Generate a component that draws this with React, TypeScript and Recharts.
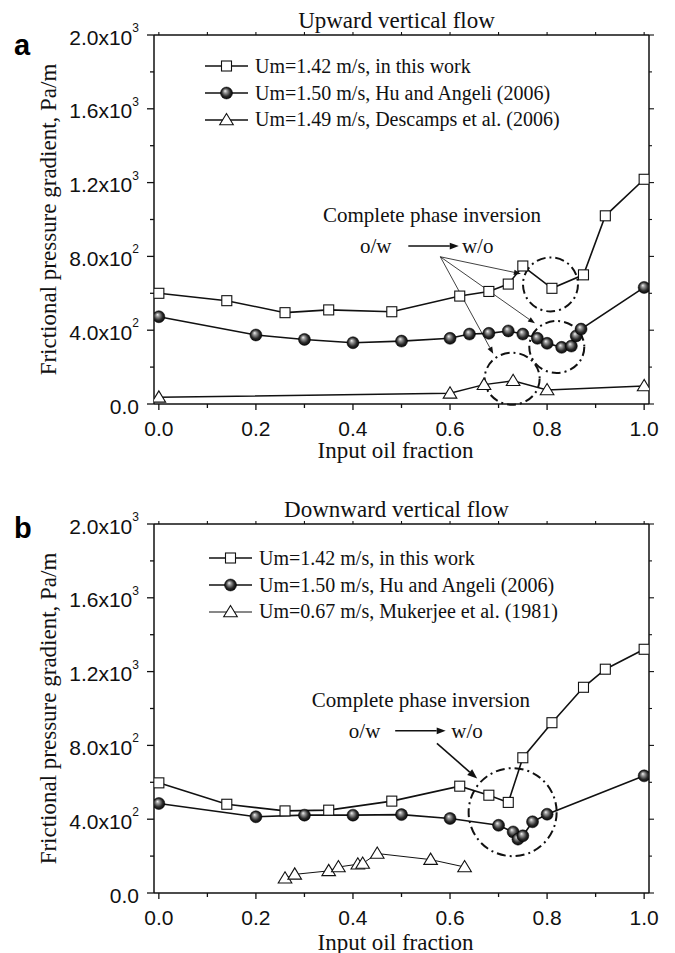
import React from "react";
import {
  ComposedChart,
  Line,
  XAxis,
  YAxis,
  Legend,
  ReferenceDot,
  ReferenceLine,
} from "recharts";

// ---- Upward vertical flow ----
const upSquareX = [0, 0.14, 0.26, 0.35, 0.48, 0.62, 0.68, 0.72, 0.75, 0.81, 0.875, 0.92, 1.0];
const upSquareY = [600, 560, 495, 510, 500, 585, 610, 650, 748, 627, 700, 1020, 1218];
const upCircleX = [0, 0.2, 0.3, 0.4, 0.5, 0.6, 0.64, 0.68, 0.72, 0.75, 0.78, 0.8, 0.83, 0.85, 0.86, 0.87, 1.0];
const upCircleY = [473, 374, 350, 332, 341, 356, 379, 383, 396, 379, 356, 329, 307, 314, 369, 406, 632];
const upTriX = [0, 0.6, 0.67, 0.73, 0.8, 1.0];
const upTriY = [36, 58, 105, 126, 76, 98];

// ---- Downward vertical flow ----
const downSquareX = [0, 0.14, 0.26, 0.35, 0.48, 0.62, 0.68, 0.72, 0.75, 0.81, 0.875, 0.92, 1.0];
const downSquareY = [597, 481, 445, 449, 498, 579, 530, 491, 733, 923, 1115, 1213, 1321];
const downCircleX = [0, 0.2, 0.3, 0.4, 0.5, 0.6, 0.7, 0.73, 0.74, 0.75, 0.77, 0.8, 1.0];
const downCircleY = [485, 413, 422, 422, 425, 404, 367, 331, 292, 310, 386, 427, 635];
const downTriX = [0.26, 0.28, 0.35, 0.37, 0.41, 0.42, 0.45, 0.56, 0.63];
const downTriY = [80, 101, 120, 141, 156, 160, 214, 181, 141];

// ---- Legend texts ----
const upLegend = [
  "Um=1.42 m/s, in this work",
  "Um=1.50 m/s, Hu and Angeli (2006)",
  "Um=1.49 m/s, Descamps et al. (2006)",
];
const downLegend = [
  "Um=1.42 m/s, in this work",
  "Um=1.50 m/s, Hu and Angeli (2006)",
  "Um=0.67 m/s, Mukerjee et al. (1981)",
];

// ---- Axis ticks ----
const xTicks = [0, 0.1, 0.2, 0.3, 0.4, 0.5, 0.6, 0.7, 0.8, 0.9, 1.0];
const xTickLabels = ["0.0", "", "0.2", "", "0.4", "", "0.6", "", "0.8", "", "1.0"];
const yTicks = [0, 200, 400, 600, 800, 1000, 1200, 1400, 1600, 1800, 2000];
const yMajor = [0, 400, 800, 1200, 1600, 2000];
const yMajorBase = ["0.0", "4.0x10", "8.0x10", "1.2x10", "1.6x10", "2.0x10"];
const yMajorExp = ["", "2", "2", "3", "3", "3"];

const X_DOMAIN: [number, number] = [-0.01, 1.01];
const Y_DOMAIN: [number, number] = [0, 2000];

const SANS = '"Liberation Sans", Arial, sans-serif';
const SERIF = '"Liberation Serif", "Times New Roman", serif';
const INK = "#111";

const zip = (xs: number[], ys: number[]) => xs.map((x, i) => ({ x, v: ys[i] }));

// ---- Markers ----
const squareMark = (cx: number, cy: number, key?: any) => (
  <rect key={key} x={cx - 5} y={cy - 5} width={10} height={10} fill="#fff" stroke={INK} strokeWidth={1.1} />
);
const ballMark = (cx: number, cy: number, key?: any) => (
  <circle key={key} cx={cx} cy={cy} r={6} fill="url(#ballGrad)" stroke="#000" strokeWidth={0.5} />
);
const triMark = (cx: number, cy: number, key?: any) => (
  <polygon
    key={key}
    points={`${cx},${cy - 6.5} ${cx - 6.8},${cy + 4.8} ${cx + 6.8},${cy + 4.8}`}
    fill="#fff"
    stroke={INK}
    strokeWidth={1.1}
  />
);

const dotOf = (mark: typeof squareMark) => (p: any) =>
  p.cx == null || p.cy == null ? <g key={p.index} /> : mark(p.cx, p.cy, p.index);

// ---- Axis ticks ----
const YTickLeft = (p: any) => {
  const { x, y, payload } = p;
  const i = yMajor.indexOf(payload.value);
  const major = i >= 0;
  return (
    <g>
      <line x1={x - (major ? 7 : 4)} x2={x} y1={y} y2={y} stroke={INK} strokeWidth={1.3} />
      {major && (
        <text x={x - 15} y={y + 2} textAnchor="end" dominantBaseline="central" fontFamily={SANS} fontSize={21} fill={INK}>
          {yMajorBase[i]}
          {yMajorExp[i] && (
            <tspan dy={-9} fontSize={12}>
              {yMajorExp[i]}
            </tspan>
          )}
        </text>
      )}
    </g>
  );
};

const YTickRight = (p: any) => {
  const { x, y, payload } = p;
  const major = yMajor.indexOf(payload.value) >= 0;
  return <line x1={x} x2={x + (major ? 5 : 3)} y1={y} y2={y} stroke={INK} strokeWidth={1.1} />;
};

const XTickBottom = (p: any) => {
  const { x, y, index } = p;
  const label = xTickLabels[index];
  const major = label !== "";
  return (
    <g>
      <line x1={x} x2={x} y1={y} y2={y + (major ? 6 : 4)} stroke={INK} strokeWidth={1.3} />
      {major && (
        <text x={x} y={y + 24} textAnchor="middle" dominantBaseline="central" fontFamily={SANS} fontSize={21} fill={INK}>
          {label}
        </text>
      )}
    </g>
  );
};

const XTickTop = (p: any) => {
  const { x, y } = p;
  return <line x1={x} x2={x} y1={y} y2={y - 3} stroke={INK} strokeWidth={1.1} />;
};

// ---- Annotation shapes ----
const arrowShape = (width: number, head: number) => (p: any) => {
  const { x1, y1, x2, y2 } = p;
  if ([x1, y1, x2, y2].some((v) => v == null || Number.isNaN(v))) return <g />;
  const a = Math.atan2(y2 - y1, x2 - x1);
  const c = Math.cos(a);
  const s = Math.sin(a);
  const bx = x2 - head * c;
  const by = y2 - head * s;
  const hw = head * 0.38;
  return (
    <g>
      <line x1={x1} y1={y1} x2={bx} y2={by} stroke={INK} strokeWidth={width} />
      <polygon points={`${x2},${y2} ${bx - hw * s},${by + hw * c} ${bx + hw * s},${by - hw * c}`} fill={INK} />
    </g>
  );
};

const textShape = (label: string, size: number) => (p: any) => (
  <text x={p.cx} y={p.cy} textAnchor="middle" dominantBaseline="central" fontFamily={SERIF} fontSize={size} fill={INK}>
    {label}
  </text>
);

const ellipseShape = (rx: number, ry: number) => (p: any) => (
  <ellipse cx={p.cx} cy={p.cy} rx={rx} ry={ry} fill="none" stroke={INK} strokeWidth={2} strokeDasharray="9 4 2 4" />
);

const annotationsUp = () => [
  <ReferenceDot key="t1" x={0.563} y={1024} ifOverflow="visible" shape={textShape("Complete phase inversion", 21)} />,
  <ReferenceDot key="t2" x={0.447} y={856} ifOverflow="visible" shape={textShape("o/w", 21)} />,
  <ReferenceDot key="t3" x={0.657} y={856} ifOverflow="visible" shape={textShape("w/o", 21)} />,
  <ReferenceLine key="a1" segment={[{ x: 0.514, y: 856 }, { x: 0.618, y: 856 }]} ifOverflow="visible" shape={arrowShape(1.5, 9)} />,
  <ReferenceLine key="p1" segment={[{ x: 0.58, y: 798 }, { x: 0.746, y: 706 }]} ifOverflow="visible" shape={arrowShape(0.8, 7)} />,
  <ReferenceLine key="p2" segment={[{ x: 0.58, y: 798 }, { x: 0.775, y: 437 }]} ifOverflow="visible" shape={arrowShape(0.8, 7)} />,
  <ReferenceLine key="p3" segment={[{ x: 0.58, y: 798 }, { x: 0.689, y: 272 }]} ifOverflow="visible" shape={arrowShape(0.8, 7)} />,
  <ReferenceDot key="e1" x={0.807} y={648} ifOverflow="visible" shape={ellipseShape(27.5, 27)} />,
  <ReferenceDot key="e2" x={0.82} y={309} ifOverflow="visible" shape={ellipseShape(27.5, 26)} />,
  <ReferenceDot key="e3" x={0.728} y={137} ifOverflow="visible" shape={ellipseShape(27.5, 26)} />,
];

const annotationsDown = () => [
  <ReferenceDot key="t1" x={0.54} y={1046} ifOverflow="visible" shape={textShape("Complete phase inversion", 21)} />,
  <ReferenceDot key="t2" x={0.424} y={879} ifOverflow="visible" shape={textShape("o/w", 21)} />,
  <ReferenceDot key="t3" x={0.635} y={879} ifOverflow="visible" shape={textShape("w/o", 21)} />,
  <ReferenceLine key="a1" segment={[{ x: 0.487, y: 879 }, { x: 0.591, y: 879 }]} ifOverflow="visible" shape={arrowShape(1.5, 9)} />,
  <ReferenceLine key="p1" segment={[{ x: 0.573, y: 811 }, { x: 0.656, y: 620 }]} ifOverflow="visible" shape={arrowShape(1.6, 10)} />,
  <ReferenceDot key="e1" x={0.729} y={438} ifOverflow="visible" shape={ellipseShape(44, 44)} />,
];

// ---- Legend ----
type LegendRow = { label: string; mark: typeof squareMark; width: number };

const legendContent = (rows: LegendRow[]) => () => (
  <div style={{ fontFamily: SERIF, fontSize: 20, color: INK, lineHeight: "26.7px" }}>
    {rows.map((r, i) => (
      <div key={i} style={{ display: "flex", alignItems: "center", height: 26.7, whiteSpace: "nowrap" }}>
        <svg width={43} height={20} style={{ display: "block" }}>
          <line x1={0} x2={43} y1={10} y2={10} stroke={INK} strokeWidth={r.width} />
          {r.mark(21.5, 10)}
        </svg>
        <span style={{ marginLeft: 7 }}>{r.label}</span>
      </div>
    ))}
  </div>
);

type Series = { data: { x: number; v: number }[]; mark: typeof squareMark; width: number };

type PanelProps = {
  height: number;
  top: number;
  bottom: number;
  title: string;
  letter: string;
  letterY: number;
  xTitleOffset: number;
  series: Series[];
  legend: string[];
  legendPos: { left: number; top: number };
  annotations: () => React.ReactNode[];
};

function Panel(props: PanelProps) {
  const { height, top, bottom, title, letter, letterY, xTitleOffset, series, legend, legendPos, annotations } = props;
  const rows: LegendRow[] = series.map((s, i) => ({ label: legend[i], mark: s.mark, width: s.width }));
  return (
    <ComposedChart width={675} height={height} margin={{ top, right: 21, bottom, left: 34 }}>
      <XAxis
        xAxisId={0}
        dataKey="x"
        type="number"
        domain={X_DOMAIN}
        allowDataOverflow
        ticks={xTicks}
        interval={0}
        tickSize={0}
        tickMargin={0}
        height={50}
        axisLine={{ stroke: INK, strokeWidth: 1.5 }}
        tickLine={false}
        tick={XTickBottom}
        label={{
          content: (lp: any) => {
            const vb = lp.viewBox;
            return (
              <text x={vb.x + vb.width / 2 - 6} y={vb.y + xTitleOffset} textAnchor="middle" dominantBaseline="central" fontFamily={SERIF} fontSize={23} fill={INK}>
                Input oil fraction
              </text>
            );
          },
        }}
      />
      <XAxis
        xAxisId="top"
        orientation="top"
        dataKey="x"
        type="number"
        domain={X_DOMAIN}
        allowDataOverflow
        ticks={xTicks}
        interval={0}
        tickSize={0}
        tickMargin={0}
        height={5}
        axisLine={{ stroke: INK, strokeWidth: 1.5 }}
        tickLine={false}
        tick={XTickTop}
        label={{
          content: (lp: any) => {
            const vb = lp.viewBox;
            return (
              <text x={vb.x + vb.width / 2 - 5} y={vb.y + vb.height - 15} textAnchor="middle" dominantBaseline="central" fontFamily={SERIF} fontSize={23} fill={INK}>
                {title}
              </text>
            );
          },
        }}
      />
      <YAxis
        yAxisId={0}
        type="number"
        domain={Y_DOMAIN}
        allowDataOverflow
        ticks={yTicks}
        interval={0}
        tickSize={0}
        tickMargin={0}
        width={120}
        axisLine={{ stroke: INK, strokeWidth: 1.5 }}
        tickLine={false}
        tick={YTickLeft}
        label={{
          content: (lp: any) => {
            const vb = lp.viewBox;
            const cx = vb.x + 14;
            const cy = vb.y + vb.height / 2;
            return (
              <g>
                <text x={cx} y={cy} transform={`rotate(-90 ${cx} ${cy})`} textAnchor="middle" dominantBaseline="central" fontFamily={SERIF} fontSize={23} fill={INK}>
                  Frictional pressure gradient, Pa/m
                </text>
                <text x={14} y={letterY} fontFamily={SANS} fontWeight="bold" fontSize={29} fill="#000">
                  {letter}
                </text>
              </g>
            );
          },
        }}
      />
      <YAxis
        yAxisId="right"
        orientation="right"
        type="number"
        domain={Y_DOMAIN}
        allowDataOverflow
        ticks={yTicks}
        interval={0}
        tickSize={0}
        tickMargin={0}
        width={5}
        axisLine={{ stroke: INK, strokeWidth: 1.5 }}
        tickLine={false}
        tick={YTickRight}
      />
      <Legend
        layout="horizontal"
        verticalAlign="middle"
        align="center"
        wrapperStyle={{ left: legendPos.left, top: legendPos.top, width: "auto", height: "auto" }}
        content={legendContent(rows)}
      />
      {series.map((s, i) => (
        <Line
          key={i}
          data={s.data}
          dataKey="v"
          type="linear"
          stroke={INK}
          strokeWidth={s.width}
          dot={dotOf(s.mark)}
          activeDot={false}
          isAnimationActive={false}
          legendType="none"
        />
      ))}
      {annotations()}
    </ComposedChart>
  );
}

export default function App() {
  const upSeries: Series[] = [
    { data: zip(upSquareX, upSquareY), mark: squareMark, width: 1.6 },
    { data: zip(upCircleX, upCircleY), mark: ballMark, width: 1.6 },
    { data: zip(upTriX, upTriY), mark: triMark, width: 1.5 },
  ];
  const downSeries: Series[] = [
    { data: zip(downSquareX, downSquareY), mark: squareMark, width: 1.6 },
    { data: zip(downCircleX, downCircleY), mark: ballMark, width: 1.6 },
    { data: zip(downTriX, downTriY), mark: triMark, width: 1 },
  ];
  return (
    <div style={{ position: "absolute", left: 0, top: 0, width: 675, height: 953, background: "#fff", overflow: "hidden" }}>
      <svg width={0} height={0} style={{ position: "absolute" }}>
        <defs>
          <radialGradient id="ballGrad" cx="0.5" cy="0.5" r="0.55" fx="0.38" fy="0.32">
            <stop offset="0" stopColor="#f2f2f2" />
            <stop offset="0.25" stopColor="#9a9a9a" />
            <stop offset="0.65" stopColor="#2a2a2a" />
            <stop offset="1" stopColor="#000" />
          </radialGradient>
        </defs>
      </svg>
      <div style={{ position: "absolute", left: 0, top: 0 }}>
        <Panel
          height={470}
          top={30}
          bottom={16}
          title="Upward vertical flow"
          letter="a"
          letterY={55}
          xTitleOffset={46}
          series={upSeries}
          legend={upLegend}
          legendPos={{ left: 205, top: 53 }}
          annotations={annotationsUp}
        />
      </div>
      <div style={{ position: "absolute", left: 0, top: 470 }}>
        <Panel
          height={483}
          top={49}
          bottom={10}
          title="Downward vertical flow"
          letter="b"
          letterY={68}
          xTitleOffset={49}
          series={downSeries}
          legend={downLegend}
          legendPos={{ left: 209, top: 75 }}
          annotations={annotationsDown}
        />
      </div>
    </div>
  );
}
